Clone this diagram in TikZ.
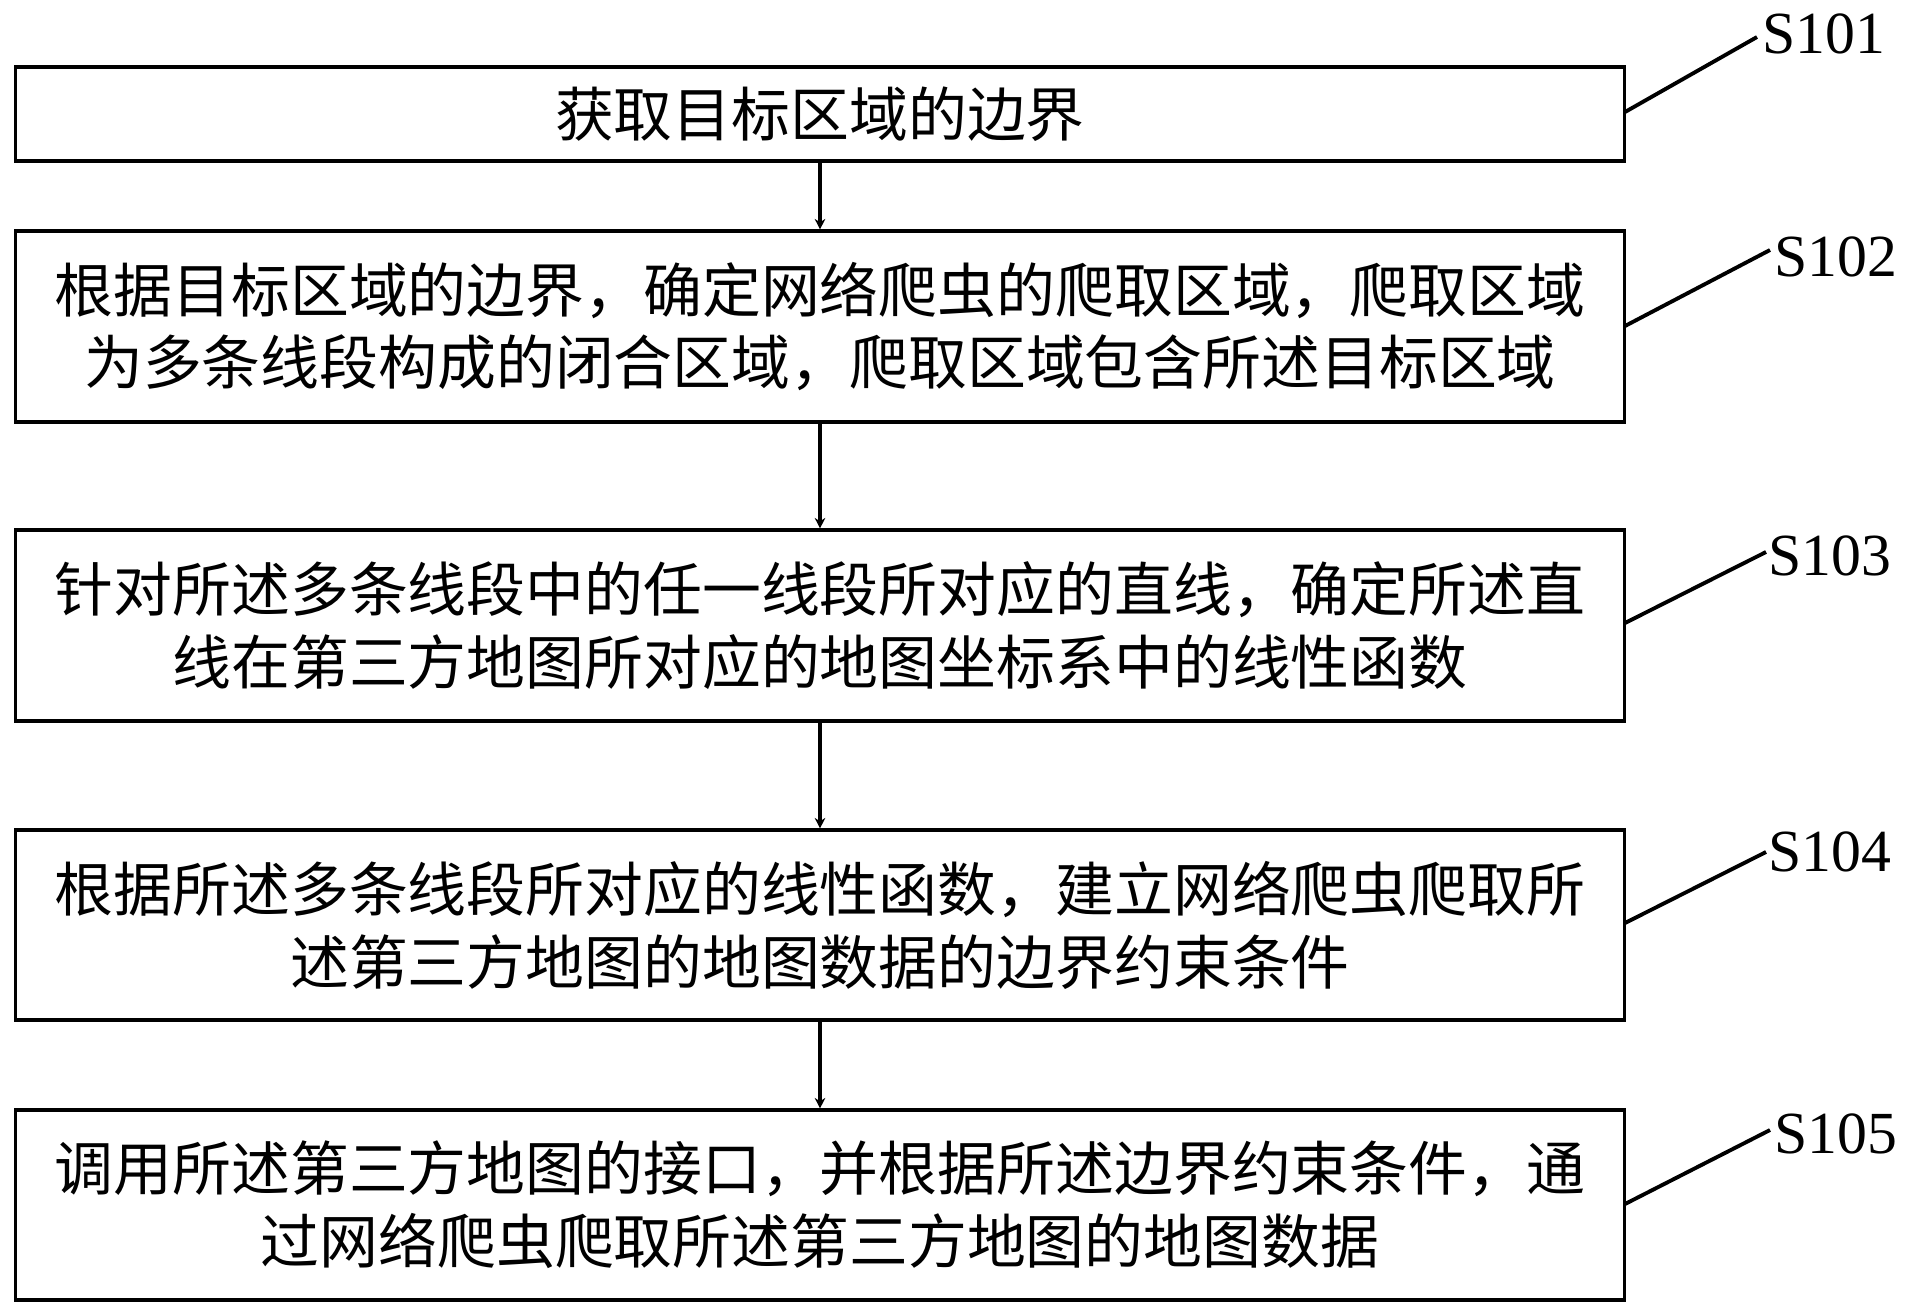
\documentclass[tikz,border=0pt]{standalone}
\usepackage{fontspec}
\setmainfont{Liberation Serif}
\newfontfamily\cjk{Noto Sans CJK SC}
\usetikzlibrary{arrows.meta}
\tikzset{
  stage/.style={draw, line width=1.8pt, minimum width=32.2cm, text width=31cm, align=center, font=\cjk\fontsize{33.5}{41.5}\selectfont, inner sep=0pt},
  link/.style={-{Stealth[length=6pt,width=6pt]}, line width=1.8pt},
  lead/.style={line width=2.2pt},
  tag/.style={font=\fontsize{34}{40}\selectfont, anchor=west, inner sep=0pt}
}
\begin{document}
\begin{tikzpicture}[x=0.02cm, y=-0.02cm]
\useasboundingbox (0,0) rectangle (1907,1313);
% Schritte
\node[stage, minimum height=1.88cm] (s1) at (820,114) {获取目标区域的边界};
\node[stage, minimum height=3.82cm] (s2) at (820,326.5) {根据目标区域的边界，确定网络爬虫的爬取区域，爬取区域\\为多条线段构成的闭合区域，爬取区域包含所述目标区域};
\node[stage, minimum height=3.82cm] (s3) at (820,625.5) {针对所述多条线段中的任一线段所对应的直线，确定所述直\\线在第三方地图所对应的地图坐标系中的线性函数};
\node[stage, minimum height=3.8cm] (s4) at (820,925) {根据所述多条线段所对应的线性函数，建立网络爬虫爬取所\\述第三方地图的地图数据的边界约束条件};
\node[stage, minimum height=3.8cm] (s5) at (820,1205) {调用所述第三方地图的接口，并根据所述边界约束条件，通\\过网络爬虫爬取所述第三方地图的地图数据};

% Pfeile
\draw[link] (s1) -- (s2);
\draw[link] (s2) -- (s3);
\draw[link] (s3) -- (s4);
\draw[link] (s4) -- (s5);

% Marken
\coordinate (e1) at (1757,37);
\coordinate (e2) at (1770,250);
\coordinate (e3) at (1766,552);
\coordinate (e4) at (1766,852);
\coordinate (e5) at (1770,1130);
\node[tag] (t1) at (1762,34) {S101};
\node[tag] (t2) at (1774,257) {S102};
\node[tag] (t3) at (1768,556) {S103};
\node[tag] (t4) at (1768,852) {S104};
\node[tag] (t5) at (1774,1134) {S105};
\draw[lead] (1625,112) -- (e1);
\draw[lead] (1625,326) -- (e2);
\draw[lead] (1625,623) -- (e3);
\draw[lead] (1625,923) -- (e4);
\draw[lead] (1625,1204) -- (e5);
\end{tikzpicture}
\end{document}
